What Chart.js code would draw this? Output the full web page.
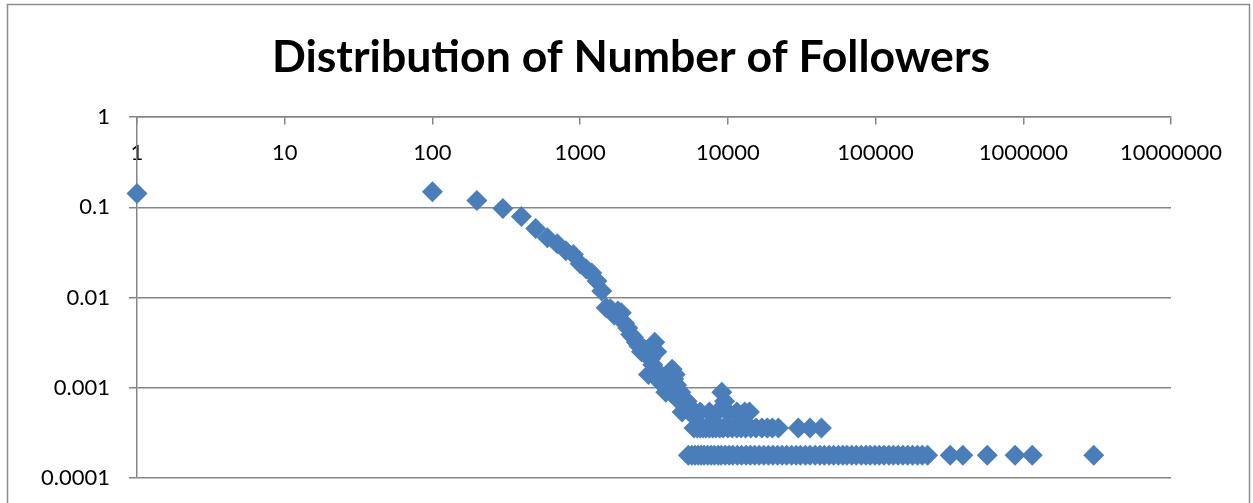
<!DOCTYPE html>
<html>
<head>
<meta charset="utf-8">
<title>Distribution of Number of Followers</title>
<script src="https://cdn.jsdelivr.net/npm/chart.js@4/dist/chart.umd.min.js"></script>
<style>
  html, body { margin: 0; padding: 0; background: #ffffff; }
  #wrap { width: 1253px; height: 503px; position: relative; }
</style>
</head>
<body>
<div id="wrap"><canvas id="chart" width="1253" height="503"></canvas></div>
<script>
// Share of users by follower count (bins of 100 followers up to ~5000)
const headFollowers = [1, 100, 200, 300, 400, 500, 600, 700, 800, 900,
  1000, 1100, 1200, 1300, 1400, 1500, 1600, 1700, 1800, 1900,
  2000, 2100, 2200, 2300, 2400, 2500, 2600, 2700, 2800, 2900,
  3000, 3100, 3200, 3300, 3400, 3500, 3600, 3700, 3800, 3900,
  4000, 4100, 4200, 4300, 4400, 4500, 4600, 4700, 4800, 4900,
  5000, 5300, 5500, 6000, 6500, 7500, 8500, 9100, 9500, 10000,
  11500, 13000, 14000];
const headShare = [0.142, 0.149, 0.119, 0.097, 0.079, 0.058, 0.046, 0.0395, 0.033, 0.030,
  0.0236, 0.0207, 0.0187, 0.0152, 0.0118, 0.0077, 0.0075, 0.0064, 0.0071, 0.0068,
  0.0052, 0.0046, 0.0039, 0.0036, 0.0032, 0.0029, 0.0025, 0.0027, 0.0023, 0.0014,
  0.0021, 0.0018, 0.0032, 0.0025, 0.0012, 0.0014, 0.0011, 0.0011, 0.00089, 0.0014,
  0.00125, 0.00089, 0.0016, 0.00125, 0.0014, 0.00107, 0.00089, 0.00071, 0.00089, 0.00054,
  0.00071, 0.00071, 0.00054, 0.00054, 0.00054, 0.00054, 0.00054, 0.00089, 0.00071, 0.00054,
  0.00054, 0.00054, 0.00054];

// Follower counts held by exactly two users
const pairFollowers = [5900, 6200, 6500, 6800, 7100, 7500, 7900, 8300, 8800, 9300,
  10000, 10700, 11500, 12300, 13200, 14300, 15500, 17000, 18500, 20000,
  22000, 30000, 36000, 43000];
const pairShare = 0.000357;

// Follower counts held by a single user
const singleFollowers = [5400, 5700, 6000, 6300, 6600, 6900, 7300, 7700, 8100, 8600,
  9000, 9600, 10200, 10800, 11600, 12400, 13300, 14200, 15200, 16300,
  17500, 18800, 20200, 21700, 23300, 25000, 27000, 29000, 31000, 33500,
  36000, 39000, 42000, 45000, 48500, 52000, 56000, 60000, 64000, 69000,
  74000, 80000, 86000, 92000, 99000, 106000, 114000, 123000, 132000, 142000,
  153000, 165000, 178000, 192000, 207000, 225000, 320000, 390000, 570000, 880000,
  1150000, 3000000];
const singleShare = 0.000179;

// Axis ticks
const xTicks = [1, 10, 100, 1000, 10000, 100000, 1000000, 10000000];
const xTickLabels = ['1', '10', '100', '1000', '10000', '100000', '1000000', '10000000'];
const yTicks = [0.0001, 0.001, 0.01, 0.1, 1];
const yTickLabels = ['0.0001', '0.001', '0.01', '0.1', '1'];

const points = [];
headFollowers.forEach((f, i) => points.push({ x: f, y: headShare[i] }));
pairFollowers.forEach(f => points.push({ x: f, y: pairShare }));
singleFollowers.forEach(f => points.push({ x: f, y: singleShare }));

const GRID = '#868686';
const FONT = 'Lato, "Open Sans", sans-serif';

// White background and the chart frame
const frame = {
  id: 'frame',
  beforeDraw(chart) {
    const ctx = chart.ctx;
    ctx.save();
    ctx.fillStyle = '#ffffff';
    ctx.fillRect(0, 0, chart.width, chart.height);
    ctx.strokeStyle = '#8c8c8c';
    ctx.lineWidth = 1.5;
    ctx.beginPath();
    ctx.moveTo(7.5, chart.height + 2);
    ctx.lineTo(7.5, 4.5);
    ctx.lineTo(1249.5, 4.5);
    ctx.lineTo(1249.5, chart.height + 2);
    ctx.stroke();
    ctx.restore();
  }
};

new Chart(document.getElementById('chart'), {
  type: 'scatter',
  data: {
    datasets: [{
      label: 'Share of users',
      data: points,
      backgroundColor: '#4a7ebb',
      borderColor: '#4a7ebb',
      borderWidth: 0,
      pointStyle: 'rectRot',
      pointRadius: 10.5,
      pointHoverRadius: 10.5,
      showLine: false,
      clip: false
    }]
  },
  options: {
    responsive: false,
    animation: false,
    events: [],
    layout: { padding: { left: 9, right: 0, top: 0, bottom: 25 } },
    plugins: {
      legend: { display: false },
      tooltip: { enabled: false },
      title: {
        display: true,
        text: 'Distribution of Number of Followers',
        color: '#000000',
        font: { family: FONT, size: 44.6, weight: 'bold', lineHeight: 1.2 },
        padding: { top: 30.4, bottom: 33.1 }
      }
    },
    scales: {
      x: {
        type: 'logarithmic',
        min: 1,
        max: 10000000,
        position: { y: 1 },
        afterBuildTicks(scale) { scale.ticks = xTicks.map(v => ({ value: v })); },
        ticks: {
          autoSkip: false,
          maxRotation: 0,
          padding: 16,
          color: '#000000',
          font: { family: FONT, size: 22 },
          callback(value) { const i = xTicks.indexOf(value); return i >= 0 ? xTickLabels[i] : ''; }
        },
        grid: { drawOnChartArea: false, drawTicks: true, tickLength: 7, color: GRID, lineWidth: 1.5 },
        border: { display: true, color: GRID, width: 1.5 }
      },
      y: {
        type: 'logarithmic',
        min: 0.0001,
        max: 1,
        position: 'left',
        afterFit(scale) {
          scale.width = 128;
          // the end labels may overhang the plot; keep the plot height fixed
          scale.paddingTop = 0;
          scale.paddingBottom = 0;
        },
        afterBuildTicks(scale) { scale.ticks = yTicks.map(v => ({ value: v })); },
        ticks: {
          padding: 19,
          color: '#000000',
          font: { family: FONT, size: 22 },
          callback(value) { const i = yTicks.indexOf(value); return i >= 0 ? yTickLabels[i] : ''; }
        },
        grid: { drawOnChartArea: true, drawTicks: true, tickLength: 8, color: GRID, lineWidth: 1.5 },
        border: { display: true, color: GRID, width: 1.5 }
      },
      // empty right-hand margin so the plot ends where the frame leaves room for the last label
      margin: {
        type: 'linear',
        position: 'right',
        display: true,
        afterFit(scale) { scale.width = 82; },
        ticks: { display: false },
        grid: { display: false, drawTicks: false },
        border: { display: false }
      }
    }
  },
  plugins: [frame]
});
</script>
</body>
</html>
